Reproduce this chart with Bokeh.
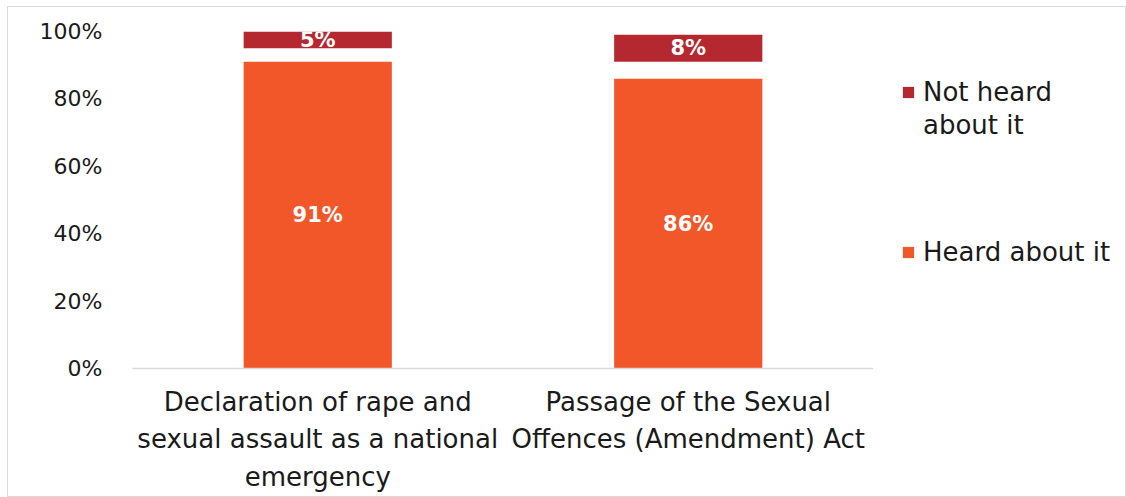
from bokeh.plotting import figure
from bokeh.layouts import row
from bokeh.models import ColumnDataSource, Legend, LegendItem, PrintfTickFormatter, FixedTicker
from bokeh.core.properties import value
from bokeh.embed import file_html
from bokeh.resources import INLINE

# ---- data ----
categories = [
    "Declaration of rape and\nsexual assault as a national\nemergency",
    "Passage of the Sexual\nOffences (Amendment) Act",
]
heard = [91, 86]
other = [4, 5]          # remaining share (not shown)
not_heard = [5, 8]
series_names = ["Heard about it", "Not heard about it"]
y_ticks = [0, 20, 40, 60, 80, 100]

ORANGE = "#F2572A"
RED = "#B5282F"
FONT = "DejaVu Sans"

src = ColumnDataSource(dict(
    cat=categories,
    heard=heard,
    other=other,
    not_heard=not_heard,
    heard_y=[h / 2 for h in heard],
    not_y=[h + o + n / 2 for h, o, n in zip(heard, other, not_heard)],
    heard_lbl=[f"{h}%" for h in heard],
    not_lbl=[f"{n}%" for n in not_heard],
))

H = 489
p = figure(x_range=categories, y_range=(0, 100), width=865, height=H,
           output_backend="svg", toolbar_location=None,
           min_border_left=124, min_border_right=0,
           min_border_top=24, min_border_bottom=128)
p.outline_line_color = None
p.xgrid.grid_line_color = None
p.ygrid.grid_line_color = None
p.x_range.range_padding = 0

rs = p.vbar_stack(["heard", "other", "not_heard"], x="cat", width=0.4, source=src,
                  color=[ORANGE, "white", RED], line_color=None)
rs[1].glyph.fill_alpha = 0

p.text(x="cat", y="heard_y", text="heard_lbl", source=src, text_color="white",
       text_font=value(FONT), text_font_style="bold", text_font_size="21px",
       text_align="center", text_baseline="middle")
p.text(x="cat", y="not_y", text="not_lbl", source=src, text_color="white",
       text_font=value(FONT), text_font_style="bold", text_font_size="21px",
       text_align="center", text_baseline="middle")

p.yaxis.ticker = FixedTicker(ticks=y_ticks)
p.yaxis.formatter = PrintfTickFormatter(format="%d%%")
p.yaxis.axis_line_color = None
p.yaxis.major_tick_line_color = None
p.yaxis.minor_tick_line_color = None
p.yaxis.major_label_standoff = 24
p.yaxis.major_label_text_font = FONT
p.yaxis.major_label_text_font_size = "22px"
p.yaxis.major_label_text_color = "#1a1a1a"

p.xaxis.axis_line_color = "#d9d9d9"
p.xaxis.axis_line_width = 1.5
p.xaxis.major_tick_line_color = None
p.xaxis.minor_tick_line_color = None
p.xaxis.major_label_text_font = FONT
p.xaxis.major_label_text_font_size = "26px"
p.xaxis.major_label_text_color = "#1a1a1a"
p.xaxis.major_label_standoff = 12
p.xaxis.major_label_text_line_height = 1.25

# ---- legend panel ----
lg = figure(width=252, height=H, x_range=(0, 1), y_range=(0, 1),
            output_backend="svg", toolbar_location=None,
            x_axis_type=None, y_axis_type=None,
            min_border=0, outline_line_color=None)
lg.xgrid.grid_line_color = None
lg.ygrid.grid_line_color = None
r_not = lg.vbar(x=[-10], top=[0], width=0.1, color=RED, line_color=None)
r_heard = lg.vbar(x=[-10], top=[0], width=0.1, color=ORANGE, line_color=None)
r_blank = lg.vbar(x=[-10], top=[0], width=0.1, fill_alpha=0, line_alpha=0)

# wrap the long legend label onto two lines
not_words = series_names[1].split(" ")
not_line1 = " ".join(not_words[:2])
not_line2 = " ".join(not_words[2:])


def style(lgd):
    lgd.border_line_color = None
    lgd.background_fill_alpha = 0
    lgd.padding = 0
    lgd.margin = 0
    lgd.spacing = 0
    lgd.glyph_width = 14
    lgd.glyph_height = 14
    lgd.label_height = 33
    lgd.label_standoff = 8
    lgd.label_text_font = FONT
    lgd.label_text_font_size = "26px"
    lgd.label_text_color = "#1a1a1a"


leg1 = Legend(items=[
    LegendItem(label=not_line1, renderers=[r_not]),
    LegendItem(label=not_line2, renderers=[r_blank]),
], location=(28, 227))
leg2 = Legend(items=[
    LegendItem(label=series_names[0], renderers=[r_heard]),
], location=(28, 100))
style(leg1)
style(leg2)
lg.add_layout(leg1, "center")
lg.add_layout(leg2, "center")

layout = row(p, lg)
layout.styles = {"border": "1px solid #d9d9d9", "margin-left": "7px", "margin-top": "6px"}

open("out.html", "w").write(file_html(layout, INLINE))
